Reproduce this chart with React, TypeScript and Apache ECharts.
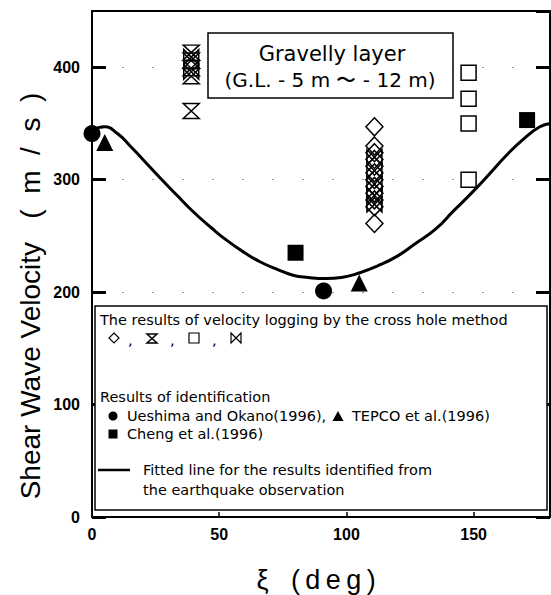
import React, { useEffect, useRef } from "react";
import * as echarts from "echarts";

// Fitted line
const curveXi = [0, 5, 10, 15, 20, 27, 33, 40, 47, 53, 60, 66, 73, 79, 85, 92, 98, 105, 112, 120, 127, 135, 142, 150, 157, 163, 170, 176, 180];
const curveV = [344, 347, 341, 330, 318, 301, 287, 271, 257, 246, 235, 227, 220, 215, 213, 212, 213, 217, 223, 232, 243, 256, 272, 290, 307, 322, 337, 347, 350];

// Results of identification
const ueshimaXi = [0, 91];
const ueshimaV = [341, 201];
const tepcoXi = [5, 105];
const tepcoV = [333, 208];
const chengXi = [80, 171];
const chengV = [235, 353];

// Cross-hole velocity logging
const diamondXi = 111;
const diamondV = [347, 330, 324, 318, 312, 306, 300, 294, 288, 282, 276, 261];
const hourglassXi = 39;
const hourglassV = [413, 406, 399, 392, 361];
const bowtieXi = [39, 39, 111, 111, 111, 111, 111];
const bowtieV = [409, 396, 320, 308, 296, 286, 278];
const openSquareXi = 148;
const openSquareV = [395, 372, 350, 300];

const xTicks = [0, 50, 100, 150];
const yTicks = [0, 100, 200, 300, 400];

const HOURGLASS = "path://M0,0 L10,0 L0,10 L10,10 Z";
const BOWTIE = "path://M0,0 L10,10 L10,0 L0,10 Z";

const TXT = "DejaVu Sans";

export default function App() {
  const ref = useRef<HTMLDivElement>(null);
  useEffect(() => {
    if (!ref.current) return;
    const chart = echarts.init(ref.current, null, { renderer: "svg" });
    const black = "#000";
    const hollow = { color: "rgba(0,0,0,0)", borderColor: black, borderWidth: 1.5, opacity: 1 };
    const solid = { color: black, opacity: 1 };
    const axisLabel = {
      color: black,
      fontFamily: "Liberation Sans",
      fontWeight: "bold" as const,
      fontSize: 16,
      showMaxLabel: false,
    };
    const legendText = (x: number, y: number, text: string) => ({
      type: "text",
      x,
      y,
      z: 101,
      style: { text, fill: black, font: `14.5px '${TXT}'`, textVerticalAlign: "middle" },
    });
    const option: any = {
      animation: false,
      backgroundColor: "#fff",
      grid: { left: 92, top: 11, right: 1, bottom: 78 },
      xAxis: [
        {
          type: "value",
          min: xTicks[0],
          max: 180,
          interval: xTicks[1] - xTicks[0],
          axisLine: { show: true, onZero: false, lineStyle: { color: black, width: 2 } },
          axisTick: { show: true, inside: true, length: 5, lineStyle: { color: black, width: 1.5 } },
          axisLabel: { ...axisLabel, margin: 9 },
          splitLine: { show: false },
        },
        {
          type: "value",
          position: "top",
          min: 0,
          max: 180,
          axisLine: { show: true, onZero: false, lineStyle: { color: black, width: 2 } },
          axisTick: { show: false },
          axisLabel: { show: false },
          splitLine: { show: false },
        },
      ],
      yAxis: [
        {
          type: "value",
          min: yTicks[0],
          max: 450,
          interval: yTicks[1] - yTicks[0],
          axisLine: { show: true, onZero: false, lineStyle: { color: black, width: 2 } },
          axisTick: { show: true, inside: true, length: 14, lineStyle: { color: black, width: 3 } },
          axisLabel: { ...axisLabel, margin: 12 },
          splitLine: { show: true, lineStyle: { color: "#999", width: 1, type: [2, 28] } },
        },
        {
          type: "value",
          position: "right",
          min: 0,
          max: 450,
          interval: 100,
          axisLine: { show: true, onZero: false, lineStyle: { color: black, width: 2 } },
          axisTick: { show: true, inside: true, length: 14, lineStyle: { color: black, width: 3 } },
          axisLabel: { show: false },
          splitLine: { show: false },
        },
      ],
      series: [
        {
          type: "line",
          data: curveXi.map((x, i) => [x, curveV[i]]),
          smooth: 0.5,
          showSymbol: false,
          lineStyle: { color: black, width: 3 },
          z: 2,
        },
        {
          type: "scatter",
          clip: false,
          symbol: "diamond",
          symbolSize: [17, 18],
          itemStyle: hollow,
          data: diamondV.map((v) => [diamondXi, v]),
        },
        {
          type: "scatter",
          clip: false,
          symbol: HOURGLASS,
          symbolSize: [16, 15],
          itemStyle: hollow,
          data: hourglassV.map((v) => [hourglassXi, v]),
        },
        {
          type: "scatter",
          clip: false,
          symbol: BOWTIE,
          symbolSize: [15, 15],
          itemStyle: hollow,
          data: bowtieV.map((v, i) => [bowtieXi[i], v]),
        },
        {
          type: "scatter",
          clip: false,
          symbol: "rect",
          symbolSize: 15,
          itemStyle: hollow,
          data: openSquareV.map((v) => [openSquareXi, v]),
        },
        {
          type: "scatter",
          clip: false,
          symbol: "circle",
          symbolSize: 17,
          itemStyle: solid,
          data: ueshimaXi.map((x, i) => [x, ueshimaV[i]]),
        },
        {
          type: "scatter",
          clip: false,
          symbol: "triangle",
          symbolSize: 17,
          itemStyle: solid,
          data: tepcoXi.map((x, i) => [x, tepcoV[i]]),
        },
        {
          type: "scatter",
          clip: false,
          symbol: "rect",
          symbolSize: 16,
          itemStyle: solid,
          data: chengXi.map((x, i) => [x, chengV[i]]),
        },
      ],
      graphic: [
        // axis titles
        {
          type: "text",
          x: 30,
          y: 296,
          rotation: Math.PI / 2,
          style: {
            text: "Shear Wave Velocity   (  m  /  s  )",
            fill: black,
            font: "28px 'Liberation Sans'",
            textAlign: "center",
            textVerticalAlign: "middle",
          },
        },
        {
          type: "text",
          x: 316,
          y: 580,
          style: {
            text: "ξ   (\u2009d\u2009e\u2009g\u2009)",
            fill: black,
            font: "27px 'Liberation Sans'",
            textAlign: "center",
            textVerticalAlign: "middle",
          },
        },
        // Gravelly layer box
        {
          type: "rect",
          z: 100,
          shape: { x: 208, y: 33, width: 245, height: 65 },
          style: { fill: "#fff", stroke: black, lineWidth: 1.5 },
        },
        {
          type: "text",
          x: 332,
          y: 54,
          z: 101,
          style: { text: "Gravelly layer", fill: black, font: `21px '${TXT}'`, textAlign: "center", textVerticalAlign: "middle" },
        },
        {
          type: "text",
          x: 330,
          y: 80,
          z: 101,
          style: { text: "(G.L. - 5 m 〜 - 12 m)", fill: black, font: `20px '${TXT}'`, textAlign: "center", textVerticalAlign: "middle" },
        },
        // legend box
        {
          type: "rect",
          z: 100,
          shape: { x: 95, y: 306, width: 452, height: 204 },
          style: { fill: "#fff", stroke: black, lineWidth: 1.5 },
        },
        legendText(100, 320, "The results of velocity logging by the cross hole method"),
        {
          type: "polygon",
          z: 101,
          shape: { points: [[114, 333], [119, 338], [114, 343], [109, 338]] },
          style: { fill: "none", stroke: black, lineWidth: 1.2 },
        },
        legendText(128, 340, ","),
        {
          type: "polygon",
          z: 101,
          shape: { points: [[147, 334], [157, 334], [147, 343], [157, 343]] },
          style: { fill: "none", stroke: black, lineWidth: 1.5 },
        },
        legendText(170, 340, ","),
        {
          type: "rect",
          z: 101,
          shape: { x: 189, y: 333, width: 10, height: 10 },
          style: { fill: "none", stroke: black, lineWidth: 1.2 },
        },
        legendText(212, 340, ","),
        {
          type: "polygon",
          z: 101,
          shape: { points: [[231, 333], [241, 343], [241, 333], [231, 343]] },
          style: { fill: "none", stroke: black, lineWidth: 1.2 },
        },
        legendText(100, 397, "Results of identification"),
        { type: "circle", z: 101, shape: { cx: 113, cy: 416, r: 4.5 }, style: { fill: black } },
        legendText(127, 416, "Ueshima and Okano(1996),"),
        {
          type: "polygon",
          z: 101,
          shape: { points: [[338, 411], [343.5, 421], [332.5, 421]] },
          style: { fill: black },
        },
        legendText(352, 416, "TEPCO et al.(1996)"),
        { type: "rect", z: 101, shape: { x: 108.5, y: 429.5, width: 9, height: 9 }, style: { fill: black } },
        legendText(127, 434, "Cheng et al.(1996)"),
        {
          type: "line",
          z: 101,
          shape: { x1: 98, y1: 470, x2: 130, y2: 470 },
          style: { stroke: black, lineWidth: 2.5 },
        },
        legendText(143, 470, "Fitted line for the results identified from"),
        legendText(143, 490, "the earthquake observation"),
      ],
    };
    chart.setOption(option);
    return () => chart.dispose();
  }, []);
  return (
    <div
      ref={ref}
      style={{ position: "fixed", left: 0, top: 0, width: 551, height: 595, background: "#fff" }}
    />
  );
}
